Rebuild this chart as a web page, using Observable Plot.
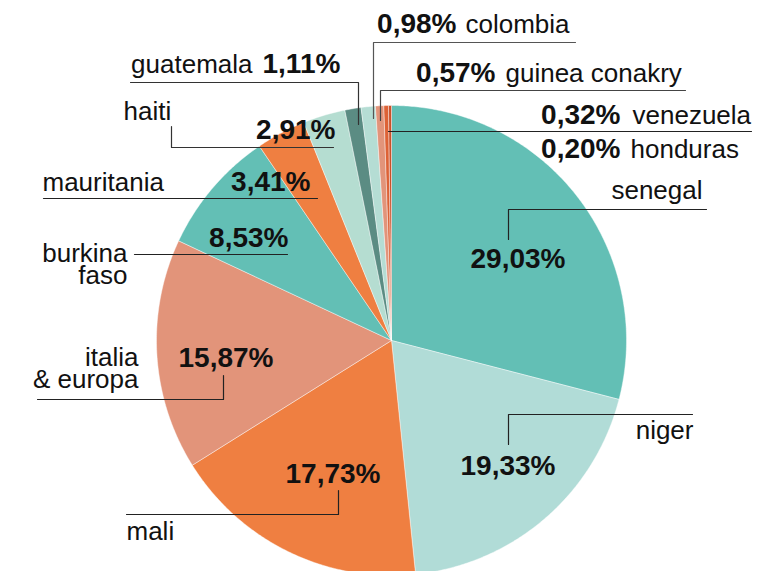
<!DOCTYPE html>
<html>
<head>
<meta charset="utf-8">
<script src="https://cdn.jsdelivr.net/npm/d3@7"></script>
<script src="https://cdn.jsdelivr.net/npm/@observablehq/plot@0.6"></script>
<style>
  html, body { margin: 0; padding: 0; background: #fff; }
  #chart svg { display: block; }
</style>
</head>
<body>
<div id="chart"></div>
<script>
// ---- data ----
const countries = ["senegal", "niger", "mali", "italia & europa", "burkina faso", "mauritania",
  "haiti", "guatemala", "colombia", "guinea conakry", "venezuela", "honduras"];
const shares = [29.03, 19.33, 17.73, 15.87, 8.53, 3.41, 2.91, 1.11, 0.98, 0.57, 0.32, 0.20];
const sliceColors = ["#63bfb5", "#b1dcd7", "#ef7f41", "#e2947a", "#63bfb5", "#ef7f41",
  "#b5ddd1", "#5b8c83", "#b5ddd4", "#e2947a", "#dd6236", "#c94f28"];

// ---- layout (frame units) ----
const W = 780, H = 571;
const CX = 391, CY = 340, R = 235;

const pctText = v => d3.format(".2f")(v).replace(".", ",") + "%";

// label placement: [country index, part ("name"|"pct"|custom text), x, baseline y (last line), anchor]
const labelLayout = [
  [8, "pct", 456, 32, "end"], [8, "name", 465, 32, "start"],
  [9, "pct", 495, 81, "end"], [9, "name", 505, 81, "start"],
  [10, "pct", 620, 123, "end"], [10, "name", 632, 123, "start"],
  [11, "pct", 620, 157, "end"], [11, "name", 630, 157, "start"],
  [7, "name", 252, 72, "end"], [7, "pct", 262, 72, "start"],
  [6, "name", 123, 119, "start"], [6, "pct", 335, 138, "end"],
  [5, "name", 42, 190, "start"], [5, "pct", 310, 190, "end"],
  [4, "burkina\nfaso", 127, 283, "end"], [4, "pct", 288, 246, "end"],
  [3, "italia\n& europa", 138, 387, "end"], [3, "pct", 273, 366, "end"],
  [2, "pct", 380, 482, "end"], [2, "name", 126, 539, "start"],
  [0, "name", 702, 198, "end"], [0, "pct", 565, 267, "end"],
  [1, "name", 693, 438, "end"], [1, "pct", 555, 474, "end"]
];

// leader lines: [id, stroke, points...]
const leaderLayout = [
  ["colombia", "#555", [[575, 42], [373, 42], [373, 118]]],
  ["guinea", "#444", [[685, 90], [380, 90], [380, 120]]],
  ["venezuela", "#222", [[388, 131], [751, 131]]],
  ["guatemala", "#333", [[130, 82], [358, 82], [358, 124]]],
  ["haiti", "#333", [[171, 126], [171, 147], [333, 147]]],
  ["mauritania", "#222", [[43, 198], [317, 198]]],
  ["burkina", "#222", [[134, 254], [287, 254]]],
  ["italia", "#222", [[37, 399], [223, 399], [223, 375]]],
  ["mali", "#222", [[126, 514], [338, 514], [338, 490]]],
  ["senegal", "#222", [[706, 209], [508, 209], [508, 239]]],
  ["niger", "#222", [[692, 414], [508, 414], [508, 444]]]
];

// ---- build pie polygons from data ----
const arcs = d3.pie().sort(null).value(d => d)(shares);
const slicePts = [];
arcs.forEach((a, i) => {
  const name = countries[i], color = sliceColors[i];
  slicePts.push({name, color, x: CX, y: CY});
  const n = Math.max(2, Math.ceil((a.endAngle - a.startAngle) / (Math.PI / 360)));
  for (let k = 0; k <= n; k++) {
    const t = a.startAngle + (a.endAngle - a.startAngle) * k / n;
    slicePts.push({name, color, x: CX + R * Math.sin(t), y: CY - R * Math.cos(t)});
  }
  slicePts.push({name, color, x: CX, y: CY});
});

const leaderPts = leaderLayout.flatMap(([id, stroke, pts]) => pts.map(([x, y]) => ({id, stroke, x, y})));

const labels = labelLayout.map(([i, part, x, y, anchor]) => ({
  text: part === "pct" ? pctText(shares[i]) : part === "name" ? countries[i] : part,
  bold: part === "pct", x, y, anchor
}));

const font = "'Liberation Sans', Arial, Helvetica, sans-serif";
const textMark = (bold, anchor) => Plot.text(labels.filter(d => d.bold === bold && d.anchor === anchor), {
  x: "x", y: "y", text: "text", textAnchor: anchor, lineAnchor: "bottom", lineHeight: 0.81,
  fontSize: bold ? 28 : 26, fontWeight: bold ? "bold" : "normal", fill: "#111",
  fontFamily: font
});

const chart = Plot.plot({
  width: W, height: H,
  margin: 0,
  x: {domain: [0, W], range: [0, W], axis: null},
  y: {domain: [0, H], range: [0, H], axis: null},
  style: {background: "#fff", fontFamily: font},
  marks: [
    Plot.line(slicePts, {x: "x", y: "y", z: "name", fill: "color", stroke: "#fff",
      strokeWidth: 0.6, strokeOpacity: 0.7, curve: "linear"}),
    Plot.line(leaderPts, {x: "x", y: "y", z: "id", stroke: "stroke", strokeWidth: 1.2}),
    textMark(true, "end"), textMark(true, "start"),
    textMark(false, "end"), textMark(false, "start")
  ]
});
document.getElementById("chart").appendChild(chart);
</script>
</body>
</html>
